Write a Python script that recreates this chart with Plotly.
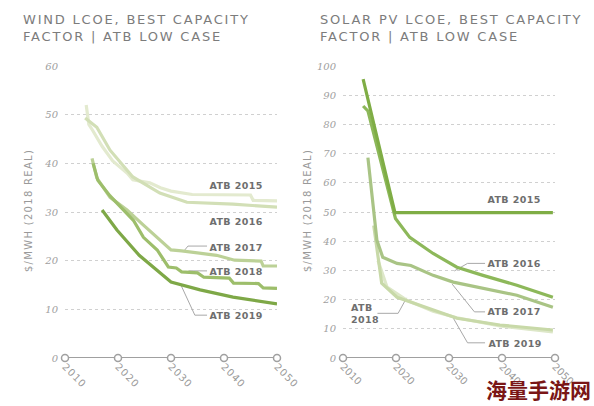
import plotly.graph_objects as go

# ---------------- data ----------------
wind_2015_x = [2014.0, 2014.5, 2015.2, 2017.0, 2019.0, 2021.7, 2022.8, 2026.0, 2028.0, 2030.0, 2034.0, 2045.0, 2045.5, 2050.0]
wind_2015_y = [52.0, 48.0, 46.8, 43.5, 40.5, 38.0, 36.6, 36.0, 35.0, 34.3, 33.6, 33.5, 32.4, 32.3]
wind_2016_x = [2013.8, 2016.0, 2018.5, 2022.8, 2027.9, 2033.0, 2041.7, 2050.0]
wind_2016_y = [49.3, 47.4, 42.7, 37.2, 33.9, 32.0, 31.6, 31.0]
wind_2017_x = [2015.1, 2016.0, 2018.5, 2021.7, 2024.8, 2027.4, 2030.0, 2032.0, 2035.5, 2038.6, 2042.0, 2047.0, 2047.4, 2050.0]
wind_2017_y = [41.0, 37.0, 33.0, 30.4, 27.3, 24.8, 22.2, 22.0, 21.5, 21.1, 20.1, 19.9, 18.9, 18.9]
wind_2018_x = [2015.3, 2016.2, 2018.5, 2021.5, 2022.9, 2024.8, 2027.4, 2029.5, 2031.0, 2032.0, 2035.0, 2036.2, 2041.0, 2041.8, 2046.5, 2047.4, 2050.0]
wind_2018_y = [40.0, 36.5, 33.3, 30.0, 28.3, 24.8, 22.2, 18.7, 18.5, 17.7, 17.5, 16.6, 16.4, 15.4, 15.3, 14.4, 14.3]
wind_2019_x = [2017.0, 2019.8, 2024.0, 2030.0, 2035.5, 2041.7, 2050.0]
wind_2019_y = [30.4, 26.3, 21.1, 15.6, 14.0, 12.5, 11.1]

solar_2015_x = [2013.8, 2019.8, 2049.6]
solar_2015_y = [95.5, 49.8, 49.8]
solar_2016_x = [2013.8, 2014.7, 2019.9, 2022.6, 2027.0, 2031.5, 2036.4, 2042.8, 2049.6]
solar_2016_y = [86.3, 84.6, 47.8, 41.3, 35.8, 31.1, 28.3, 24.9, 20.8]
solar_2017_x = [2014.7, 2016.4, 2017.5, 2020.2, 2022.8, 2027.0, 2030.8, 2036.4, 2042.8, 2049.6]
solar_2017_y = [68.6, 40.3, 34.5, 32.4, 31.7, 28.3, 26.0, 23.8, 21.5, 17.4]
solar_2018_x = [2015.8, 2017.3, 2020.2, 2027.0, 2031.5, 2039.6, 2049.6]
solar_2018_y = [45.4, 25.6, 20.8, 16.4, 13.6, 11.3, 9.6]
solar_2019_x = [2016.6, 2018.3, 2022.0, 2027.0, 2031.5, 2039.6, 2049.6]
solar_2019_y = [33.4, 24.3, 19.8, 16.0, 13.8, 11.0, 8.9]

x_ticks = [2010, 2020, 2030, 2040, 2050]
wind_y_ticks = [0, 10, 20, 30, 40, 50, 60]
solar_y_ticks = [0, 10, 20, 30, 40, 50, 60, 70, 80, 90, 100]

wind_series = [
    ("ATB 2015", wind_2015_x, wind_2015_y, "#e3eacf"),
    ("ATB 2016", wind_2016_x, wind_2016_y, "#d2dfb6"),
    ("ATB 2017", wind_2017_x, wind_2017_y, "#bcd197"),
    ("ATB 2018", wind_2018_x, wind_2018_y, "#9dbe6b"),
    ("ATB 2019", wind_2019_x, wind_2019_y, "#7ea847"),
]
solar_series = [
    ("ATB 2019", solar_2019_x, solar_2019_y, "#dde7c8"),
    ("ATB 2018", solar_2018_x, solar_2018_y, "#c8d9a8"),
    ("ATB 2017", solar_2017_x, solar_2017_y, "#a9c485"),
    ("ATB 2016", solar_2016_x, solar_2016_y, "#8db85a"),
    ("ATB 2015", solar_2015_x, solar_2015_y, "#7fad45"),
]

# label positions (data coords) and leader lines
wind_labels = [("ATB 2015", 2037.2, 35.5), ("ATB 2016", 2037.2, 28.1), ("ATB 2017", 2037.2, 22.8),
               ("ATB 2018", 2037.2, 17.7), ("ATB 2019", 2037.2, 8.7)]
wind_leaders = [
    ([2032.6, 2033.2, 2036.8], [22.2, 23.0, 23.0]),
    ([2033.3, 2036.8], [17.9, 17.9]),
    ([2031.7, 2034.5, 2036.8], [15.4, 8.8, 8.8]),
]
solar_labels = [("ATB 2015", 2037.2, 54.3), ("ATB 2016", 2037.2, 32.4), ("ATB 2017", 2037.2, 15.8),
                ("ATB 2019", 2037.4, 4.8)]
solar_leaders = [
    ([2031.0, 2033.5, 2036.8], [29.8, 32.4, 32.4]),
    ([2030.6, 2034.8, 2036.8], [25.3, 15.8, 15.8]),
    ([2030.8, 2033.5, 2036.8], [13.7, 5.2, 5.2]),
    ([2016.5, 2020.4, 2022.0], [15.3, 15.3, 20.6]),
]

GREY = "#999999"
LABEL = "#6e6e6e"

fig = go.Figure()

def add_panel(series, leaders, labels, xa, ya):
    for xs, ys in leaders:
        fig.add_trace(go.Scatter(x=xs, y=ys, mode="lines", line=dict(color="#a8a8a8", width=1),
                                 xaxis=xa, yaxis=ya, hoverinfo="skip", showlegend=False))
    for name, xs, ys, col in series:
        fig.add_trace(go.Scatter(x=xs, y=ys, mode="lines", name=name,
                                 line=dict(color=col, width=3.2), xaxis=xa, yaxis=ya,
                                 showlegend=False, cliponaxis=False))
    fig.add_trace(go.Scatter(x=x_ticks, y=[0] * len(x_ticks), mode="lines+markers",
                             line=dict(color="#a0a0a0", width=2),
                             marker=dict(symbol="circle", size=7, color="white",
                                         line=dict(color="#a0a0a0", width=1.5)),
                             xaxis=xa, yaxis=ya, showlegend=False, cliponaxis=False, hoverinfo="skip"))
    for txt, lx, ly in labels:
        fig.add_annotation(x=lx, y=ly, xref=xa, yref=ya, text=txt, showarrow=False,
                           xanchor="left", yanchor="middle",
                           font=dict(family="DejaVu Sans", size=9.5, color=LABEL, weight="bold"))

add_panel(wind_series, wind_leaders, wind_labels, "x", "y")
add_panel(solar_series, solar_leaders, solar_labels, "x2", "y2")

fig.add_annotation(x=2014.1, y=15.3, xref="x2", yref="y2", text="ATB<br>2018", showarrow=False,
                   xanchor="center", yanchor="middle", align="left",
                   font=dict(family="DejaVu Sans", size=9.5, color=LABEL, weight="bold"))

tickfont_x = dict(family="DejaVu Sans", size=10, color=GREY)
tickfont_y = dict(family="DejaVu Serif", size=10, color="#a0a0a0", style="italic")
ydom = [48 / 406, 340 / 406]

common_x = dict(range=[2010, 2050], tickvals=x_ticks, tickangle=45, showgrid=False, zeroline=False,
                showline=False, ticks="", tickfont=tickfont_x, fixedrange=True, automargin=False)
common_y = dict(showgrid=True, gridcolor="#d0d0d0", griddash="dot", gridwidth=1, zeroline=False,
                tickfont=tickfont_y, ticks="", ticklabelstandoff=6, automargin=False, fixedrange=True)
fig.update_layout(
    width=594, height=406,
    margin=dict(l=0, r=0, t=0, b=0, autoexpand=False),
    paper_bgcolor="white", plot_bgcolor="white",
    showlegend=False,
    xaxis=dict(domain=[65 / 594, 277 / 594], anchor="y", **common_x),
    xaxis2=dict(domain=[343 / 594, 555 / 594], anchor="y2", **common_x),
    yaxis=dict(domain=ydom, range=[0, 60], tickvals=wind_y_ticks, anchor="x", **common_y),
    yaxis2=dict(domain=ydom, range=[0, 100], tickvals=solar_y_ticks, anchor="x2", **common_y),
)

title_font = dict(family="DejaVu Sans", size=13, color="#7c7c7c")
fig.add_annotation(x=21 / 594, y=1 - 10 / 406, xref="paper", yref="paper", xanchor="left", yanchor="top",
                   text="WIND LCOE, BEST CAPACITY<br>FACTOR | ATB LOW CASE", showarrow=False, align="left",
                   font=title_font, name="title")
fig.add_annotation(x=318 / 594, y=1 - 10 / 406, xref="paper", yref="paper", xanchor="left", yanchor="top",
                   text="SOLAR PV LCOE, BEST CAPACITY<br>FACTOR | ATB LOW CASE", showarrow=False, align="left",
                   font=title_font, name="title")

axis_title_font = dict(family="DejaVu Sans", size=10, color=GREY)
for xp in (28, 307):
    fig.add_annotation(x=xp / 594, y=1 - 211 / 406, xref="paper", yref="paper", text="$/MWH (2018 REAL)",
                       textangle=-90, showarrow=False, xanchor="center", yanchor="middle", font=axis_title_font)

fig.add_annotation(x=538 / 594, y=1 - 389 / 406, xref="paper", yref="paper", text="海量手游网", showarrow=False,
                   xanchor="center", yanchor="middle",
                   font=dict(family="Noto Sans CJK SC", size=21, color="#7a1616", weight="bold"))

post = """
document.body.style.margin='0px';
var gd = document.getElementById('{plot_id}');
gd.querySelectorAll('.annotation-text').forEach(function(t){
  var s = t.textContent;
  if (s.indexOf('LCOE') >= 0) { t.style.letterSpacing = '1.8px'; }
  else if (s.indexOf('MWH') >= 0) { t.style.letterSpacing = '1.3px'; }
  else if (s.indexOf('ATB') >= 0) { t.style.letterSpacing = '0.4px'; }
});
gd.querySelectorAll('.xtick text').forEach(function(t){ t.style.letterSpacing = '1px'; });
"""

fig.write_html("out.html", post_script=post, config={"displayModeBar": False})
